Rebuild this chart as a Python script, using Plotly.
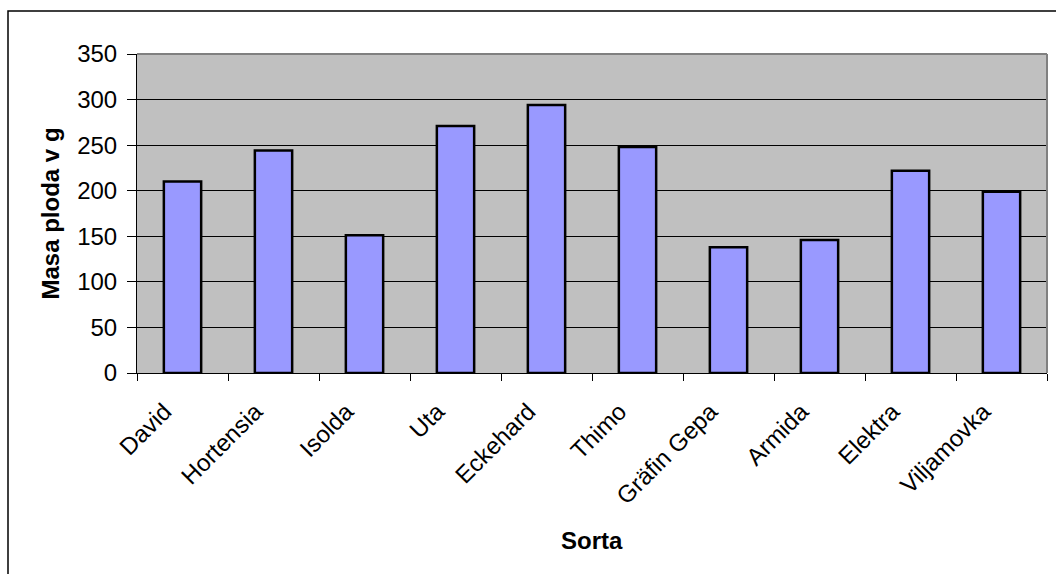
import plotly.graph_objects as go

categories = ["David", "Hortensia", "Isolda", "Uta", "Eckehard", "Thimo",
              "Gräfin Gepa", "Armida", "Elektra", "Viljamovka"]
values = [210, 244, 151, 271, 294, 248, 138, 146, 222, 199]
y_ticks = [0, 50, 100, 150, 200, 250, 300, 350]

W, H = 1056, 574
L, R, T, B = 137, 9, 54, 201
pw, ph = W - L - R, H - T - B

font = "Liberation Sans, Arial, sans-serif"

fig = go.Figure(go.Bar(
    x=categories, y=values,
    marker=dict(color="#9999FF", line=dict(color="black", width=2.5)),
    width=0.41,
))

fig.update_layout(
    width=W, height=H,
    margin=dict(l=L, r=R, t=T, b=B, pad=0),
    paper_bgcolor="white",
    plot_bgcolor="#C0C0C0",
    showlegend=False,
    font=dict(family=font, size=24, color="black"),
    xaxis=dict(
        tickangle=-45, tickson="boundaries", ticks="outside", ticklen=7,
        tickcolor="black", showline=True, linecolor="black", linewidth=1,
        showgrid=False, tickfont=dict(size=24),
        ticklabelshift=-18, ticklabelstandoff=14,
    ),
    yaxis=dict(
        range=[0, 350], tickvals=y_ticks, ticks="outside", ticklen=9,
        tickcolor="black", showline=True, linecolor="black", linewidth=1,
        showgrid=True, gridcolor="black", gridwidth=1, zeroline=False,
        tickfont=dict(size=24), ticklabelstandoff=5,
    ),
    annotations=[
        dict(text="<b>Sorta</b>", xref="paper", yref="paper",
             x=0.5, y=(373 - 540) / ph, xanchor="center", yanchor="middle",
             showarrow=False, font=dict(size=24)),
        dict(text="<b>Masa ploda v g</b>", xref="paper", yref="paper",
             x=(50 - L) / pw, y=0.5, xanchor="center", yanchor="middle",
             textangle=-90, showarrow=False, font=dict(size=24)),
    ],
    shapes=[
        dict(type="line", xref="paper", yref="paper", x0=0, x1=1, y0=1, y1=1,
             line=dict(color="#808080", width=2)),
        dict(type="line", xref="paper", yref="paper", x0=1, x1=1, y0=0, y1=1,
             line=dict(color="#808080", width=2)),
        dict(type="rect", xref="paper", yref="paper",
             x0=(8 - L) / pw, x1=(W + 20 - L) / pw,
             y0=-(H + 20 - T - ph) / ph, y1=(H - B - 11) / ph,
             line=dict(color="black", width=1.5)),
    ],
)

fig.write_html("out.html")
